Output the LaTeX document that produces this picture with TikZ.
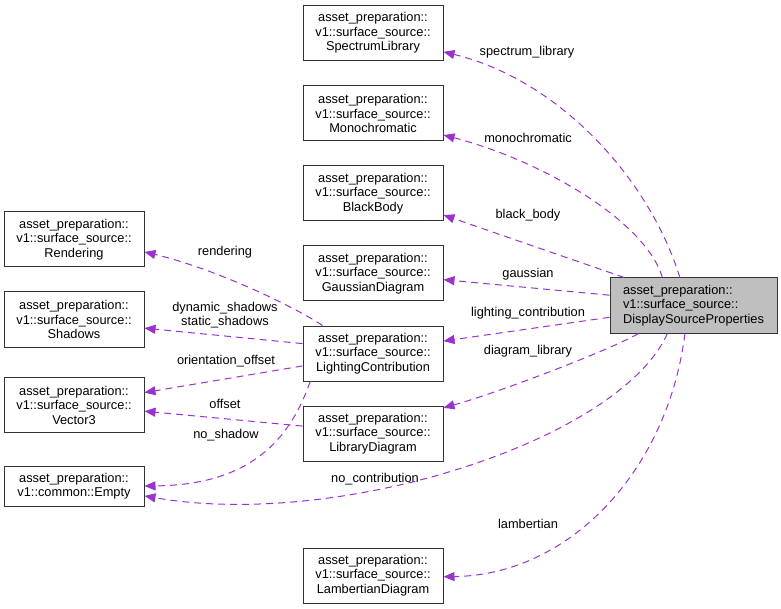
\documentclass[tikz,border=0pt]{standalone}
\usepackage{fontspec}
\setmainfont{Liberation Sans}
\usepackage{xcolor}
\usepackage{tikz}
\usetikzlibrary{
	arrows.meta,
	calc,
	positioning,
	shapes,
	}
\definecolor{depcolor}{HTML}{9A32CD}
\definecolor{focusgray}{HTML}{BFBFBF}

\begin{document}
\begin{tikzpicture}[x=1pt, y=-1pt,
	cls/.style={draw=black!80, line width=1pt, rectangle, align=center, inner sep=0pt,
		minimum width=140pt, minimum height=55pt, font=\fontsize{12.8}{14.5}\selectfont},
	focus/.style={cls, fill=focusgray, minimum width=167pt, align=left},
	lbl/.style={align=center, inner sep=0pt, font=\fontsize{12.8}{14.5}\selectfont},
	dep/.style={draw=depcolor, line width=1pt, dash pattern=on 7pt off 5pt,
		-{Triangle[length=11pt, width=9pt, fill=depcolor]}},
	]
	\useasboundingbox (0,0) rectangle (781,609);

	\node[cls] (spec) at (373,33) {asset\_preparation::\\v1::surface\_source::\\SpectrumLibrary};
	\node[cls] (mono) at (373,113.5) {asset\_preparation::\\v1::surface\_source::\\Monochromatic};
	\node[cls] (black) at (373,193.5) {asset\_preparation::\\v1::surface\_source::\\BlackBody};
	\node[cls] (gauss) at (373,273.5) {asset\_preparation::\\v1::surface\_source::\\GaussianDiagram};
	\node[cls] (light) at (373,353.5) {asset\_preparation::\\v1::surface\_source::\\LightingContribution};
	\node[cls] (lib) at (373,433.5) {asset\_preparation::\\v1::surface\_source::\\LibraryDiagram};
	\node[cls] (lamb) at (373,575.5) {asset\_preparation::\\v1::surface\_source::\\LambertianDiagram};
	\node[focus] (dsp) at (693.5,305.5) {asset\_preparation::\\v1::surface\_source::\\DisplaySourceProperties};

	\node[cls] (rend) at (74,239.5) {asset\_preparation::\\v1::surface\_source::\\Rendering};
	\node[cls] (shad) at (74,319.5) {asset\_preparation::\\v1::surface\_source::\\Shadows};
	\node[cls] (vec) at (74,405) {asset\_preparation::\\v1::surface\_source::\\Vector3};
	\node[cls, minimum height=40pt] (empty) at (74,486) {asset\_preparation::\\v1::common::Empty};

	\node[lbl] (l1) at (527,52) {spectrum\_library};
	\node[lbl] (l2) at (528,138) {monochromatic};
	\node[lbl] (l3) at (528,215) {black\_body};
	\node[lbl] (l4) at (528,274) {gaussian};
	\node[lbl] (l5) at (528,313) {lighting\_contribution};
	\node[lbl] (l6) at (528,351) {diagram\_library};
	\node[lbl] (l7) at (375,479) {no\_contribution};
	\node[lbl] (l8) at (528,524) {lambertian};
	\node[lbl] (l9) at (225,252) {rendering};
	\node[lbl] (l10) at (225,315) {dynamic\_shadows\\static\_shadows};
	\node[lbl] (l11) at (226,361) {orientation\_offset};
	\node[lbl] (l12) at (225,404) {offset};
	\node[lbl] (l13) at (226,435) {no\_shadow};

	\draw[dep] (dsp.116) .. controls (650,180) and (560,80) .. (spec.-15.2);
	\draw[dep] (dsp.138) .. controls (645,220) and (540,160) .. (mono.-17.8);
	\draw[dep] (dsp.158) -- (black.-17.8);
	\draw[dep] (dsp.173.5) -- (gauss.-5.3);
	\draw[dep] (dsp.188.5) -- (light.10.1);
	\draw[dep] (dsp.207) .. controls (610,350) and (500,392) .. (lib.20);
	\draw[dep] (dsp.227) .. controls (620,440) and (340,530) .. (empty.-8.9);
	\draw[dep] (dsp.253) .. controls (668,470) and (570,575) .. (lamb.-1);
	\draw[dep] (light.151) .. controls (300,310) and (220,270) .. (rend.-10.9);
	\draw[dep] (light.172.3) -- (shad.-7.7);
	\draw[dep] (light.190.1) -- (vec.10.5);
	\draw[dep] (lib.174.7) -- (vec.-5.7);
	\draw[dep] (light.204.3) .. controls (290,440) and (250,485) .. (empty.0);
\end{tikzpicture}
\end{document}
